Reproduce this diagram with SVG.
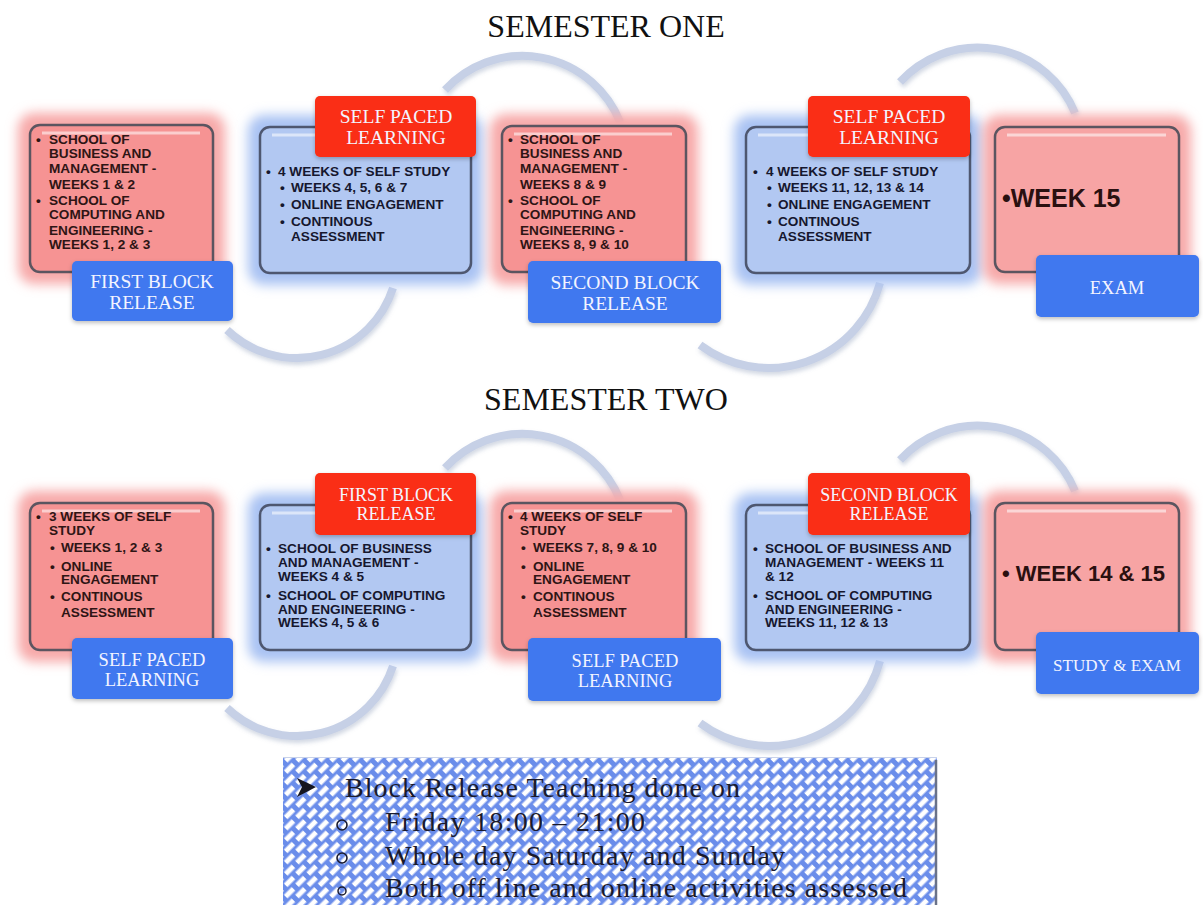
<svg xmlns="http://www.w3.org/2000/svg" width="1203" height="905" viewBox="0 0 1203 905">
<style>
.title{font-family:"Liberation Serif",serif;font-size:32px;fill:#111;text-anchor:middle}
.pinkglow{fill:#f7a9a9;filter:url(#glow)}
.blueglow{fill:#a9c2f3;filter:url(#glow)}
.pink{fill:#f69393;stroke:#5b5560;stroke-width:2.5}
.pinklt{fill:#f7a4a4;stroke:#5b5560;stroke-width:2.5}
.blue{fill:#b2c8f2;stroke:#4e5770;stroke-width:2.5}
.hl{stroke:#fff;stroke-opacity:0.55;stroke-width:3;fill:none}
.t{font-family:"Liberation Sans",Arial,sans-serif;font-weight:bold;font-size:13.6px}
.tp{fill:#2e1515}
.tb{fill:#16172e}
.big{font-family:"Liberation Sans",Arial,sans-serif;font-weight:bold;fill:#2a1010}
.lblue{fill:#4078ef;filter:url(#sh)}
.lred{fill:#fa2d12;filter:url(#sh)}
.lt{font-family:"Liberation Serif",serif;fill:#f3f4ff;text-anchor:middle}
.arc{fill:none;stroke:#c6d0e6;stroke-width:8}
.bt{font-family:"Liberation Serif",serif;font-size:28px;fill:#1a1a2c}
</style>
<defs>
<filter id="glow" x="-30%" y="-30%" width="160%" height="160%"><feGaussianBlur stdDeviation="6"/></filter>
<filter id="sh" x="-20%" y="-20%" width="140%" height="150%"><feDropShadow dx="0" dy="2" stdDeviation="2" flood-color="#000" flood-opacity="0.25"/></filter>
<filter id="ash" x="-20%" y="-20%" width="140%" height="140%"><feDropShadow dx="1" dy="3" stdDeviation="2" flood-color="#8090b0" flood-opacity="0.35"/></filter>
<pattern id="weave" width="16" height="16" patternUnits="userSpaceOnUse" patternTransform="rotate(-45)">
<rect width="16" height="16" fill="#5a80e8"/>
<rect x="0" y="1.5" width="11" height="5" fill="#fff"/>
<rect x="8" y="9.5" width="8" height="5" fill="#fff"/>
<rect x="0" y="9.5" width="3" height="5" fill="#fff"/>
</pattern>
</defs>
<rect width="1203" height="905" fill="#fff"/>

<text class="title" x="606" y="37">SEMESTER ONE</text>
<text class="title" x="606" y="410">SEMESTER TWO</text>

<g id="connectors" filter="url(#ash)">
<path class="arc" d="M445,90 A105,105 0 0 1 620,122"/>
<path class="arc" d="M900,82 A105,105 0 0 1 1075,113"/>
<path class="arc" d="M393,288 A101,101 0 0 1 227,330"/>
<path class="arc" d="M880,283 A115,115 0 0 1 700,345"/>
<path class="arc" d="M445,468 A105,105 0 0 1 620,500"/>
<path class="arc" d="M900,460 A105,105 0 0 1 1075,491"/>
<path class="arc" d="M393,666 A101,101 0 0 1 227,708"/>
<path class="arc" d="M880,661 A115,115 0 0 1 700,723"/>
</g>

<!-- SEMESTER ONE -->
<g id="s1-block1">
<rect class="pinkglow" x="18" y="113" width="207" height="171" rx="16"/>
<rect class="pink" x="30" y="125" width="183" height="147" rx="10"/>
<line class="hl" x1="42" y1="133" x2="200" y2="133"/>
<g class="t tp">
<text x="36" y="144">•</text><text x="49" y="144">SCHOOL OF</text>
<text x="49" y="158">BUSINESS AND</text>
<text x="49" y="173">MANAGEMENT -</text>
<text x="49" y="189">WEEKS 1 &amp; 2</text>
<text x="36" y="205">•</text><text x="49" y="205">SCHOOL OF</text>
<text x="49" y="219">COMPUTING AND</text>
<text x="49" y="235">ENGINEERING -</text>
<text x="49" y="249">WEEKS 1, 2 &amp; 3</text>
</g>
</g>
<g id="s1-label1">
<rect class="lblue" x="72" y="261" width="161" height="60" rx="5"/>
<text class="lt" x="152" y="288" font-size="19.5">FIRST BLOCK</text>
<text class="lt" x="152" y="309" font-size="19.5">RELEASE</text>
</g>

<g id="s1-block2">
<rect class="blueglow" x="248" y="115" width="235" height="170" rx="16"/>
<rect class="blue" x="260" y="127" width="211" height="146" rx="10"/>
<line class="hl" x1="272" y1="135" x2="458" y2="135"/>
<g class="t tb">
<text x="266" y="176">•</text><text x="278" y="176">4 WEEKS OF SELF STUDY</text>
<text x="280" y="192">•</text><text x="291" y="192">WEEKS 4, 5, 6 &amp; 7</text>
<text x="280" y="209">•</text><text x="291" y="209">ONLINE ENGAGEMENT</text>
<text x="280" y="226">•</text><text x="291" y="226">CONTINOUS</text>
<text x="291" y="241">ASSESSMENT</text>
</g>
</g>
<g id="s1-label2">
<rect class="lred" x="315" y="96" width="161" height="61" rx="5"/>
<text class="lt" x="396" y="123" font-size="19.5">SELF PACED</text>
<text class="lt" x="396" y="144" font-size="19.5">LEARNING</text>
</g>

<g id="s1-block3">
<rect class="pinkglow" x="490" y="114" width="208" height="171" rx="16"/>
<rect class="pink" x="502" y="126" width="184" height="146" rx="10"/>
<line class="hl" x1="514" y1="134" x2="672" y2="134"/>
<g class="t tp">
<text x="508" y="144">•</text><text x="520" y="144">SCHOOL OF</text>
<text x="520" y="158">BUSINESS AND</text>
<text x="520" y="173">MANAGEMENT -</text>
<text x="520" y="189">WEEKS 8 &amp; 9</text>
<text x="508" y="205">•</text><text x="520" y="205">SCHOOL OF</text>
<text x="520" y="219">COMPUTING AND</text>
<text x="520" y="235">ENGINEERING -</text>
<text x="520" y="249">WEEKS 8, 9 &amp; 10</text>
</g>
</g>
<g id="s1-label3">
<rect class="lblue" x="528" y="261" width="193" height="62" rx="5"/>
<text class="lt" x="625" y="289" font-size="19.5">SECOND BLOCK</text>
<text class="lt" x="625" y="310" font-size="19.5">RELEASE</text>
</g>

<g id="s1-block4">
<rect class="blueglow" x="734" y="115" width="248" height="170" rx="16"/>
<rect class="blue" x="746" y="127" width="224" height="146" rx="10"/>
<line class="hl" x1="758" y1="135" x2="958" y2="135"/>
<g class="t tb">
<text x="753" y="176">•</text><text x="766" y="176">4 WEEKS OF SELF STUDY</text>
<text x="767" y="192">•</text><text x="778" y="192">WEEKS 11, 12, 13 &amp; 14</text>
<text x="767" y="209">•</text><text x="778" y="209">ONLINE ENGAGEMENT</text>
<text x="767" y="226">•</text><text x="778" y="226">CONTINOUS</text>
<text x="778" y="241">ASSESSMENT</text>
</g>
</g>
<g id="s1-label4">
<rect class="lred" x="808" y="96" width="162" height="61" rx="5"/>
<text class="lt" x="889" y="123" font-size="19.5">SELF PACED</text>
<text class="lt" x="889" y="144" font-size="19.5">LEARNING</text>
</g>

<g id="s1-block5">
<rect class="pinkglow" x="983" y="115" width="208" height="169" rx="16"/>
<rect class="pinklt" x="995" y="127" width="184" height="145" rx="10"/>
<line class="hl" x1="1007" y1="135" x2="1166" y2="135"/>
<text class="big" x="1002" y="207" font-size="25">•WEEK 15</text>
</g>
<g id="s1-label5">
<rect class="lblue" x="1036" y="255" width="163" height="62" rx="5"/>
<text class="lt" x="1117" y="294" font-size="18.5">EXAM</text>
</g>

<!-- SEMESTER TWO -->
<g id="s2-block1">
<rect class="pinkglow" x="18" y="491" width="207" height="171" rx="16"/>
<rect class="pink" x="30" y="503" width="183" height="147" rx="10"/>
<line class="hl" x1="42" y1="511" x2="200" y2="511"/>
<g class="t tp">
<text x="36" y="521">•</text><text x="49" y="521">3 WEEKS OF SELF</text>
<text x="49" y="535">STUDY</text>
<text x="50" y="552">•</text><text x="61" y="552">WEEKS 1, 2 &amp; 3</text>
<text x="50" y="571">•</text><text x="61" y="571">ONLINE</text>
<text x="61" y="584">ENGAGEMENT</text>
<text x="50" y="601">•</text><text x="61" y="601">CONTINOUS</text>
<text x="61" y="617">ASSESSMENT</text>
</g>
</g>
<g id="s2-label1">
<rect class="lblue" x="72" y="638" width="161" height="61" rx="5"/>
<text class="lt" x="152" y="666" font-size="18.5">SELF PACED</text>
<text class="lt" x="152" y="686" font-size="18.5">LEARNING</text>
</g>

<g id="s2-block2">
<rect class="blueglow" x="248" y="493" width="235" height="169" rx="16"/>
<rect class="blue" x="260" y="505" width="211" height="145" rx="10"/>
<line class="hl" x1="272" y1="513" x2="458" y2="513"/>
<g class="t tb">
<text x="266" y="553">•</text><text x="278" y="553">SCHOOL OF BUSINESS</text>
<text x="278" y="567">AND MANAGEMENT -</text>
<text x="278" y="581">WEEKS 4 &amp; 5</text>
<text x="266" y="600">•</text><text x="278" y="600">SCHOOL OF COMPUTING</text>
<text x="278" y="614">AND ENGINEERING -</text>
<text x="278" y="627">WEEKS 4, 5 &amp; 6</text>
</g>
</g>
<g id="s2-label2">
<rect class="lred" x="315" y="473" width="161" height="62" rx="5"/>
<text class="lt" x="396" y="501" font-size="18">FIRST BLOCK</text>
<text class="lt" x="396" y="520" font-size="18">RELEASE</text>
</g>

<g id="s2-block3">
<rect class="pinkglow" x="490" y="491" width="208" height="171" rx="16"/>
<rect class="pink" x="502" y="503" width="184" height="147" rx="10"/>
<line class="hl" x1="514" y1="511" x2="672" y2="511"/>
<g class="t tp">
<text x="508" y="521">•</text><text x="520" y="521">4 WEEKS OF SELF</text>
<text x="520" y="535">STUDY</text>
<text x="521" y="552">•</text><text x="533" y="552">WEEKS 7, 8, 9 &amp; 10</text>
<text x="521" y="571">•</text><text x="533" y="571">ONLINE</text>
<text x="533" y="584">ENGAGEMENT</text>
<text x="521" y="601">•</text><text x="533" y="601">CONTINOUS</text>
<text x="533" y="617">ASSESSMENT</text>
</g>
</g>
<g id="s2-label3">
<rect class="lblue" x="528" y="638" width="193" height="63" rx="5"/>
<text class="lt" x="625" y="667" font-size="18.5">SELF PACED</text>
<text class="lt" x="625" y="687" font-size="18.5">LEARNING</text>
</g>

<g id="s2-block4">
<rect class="blueglow" x="734" y="493" width="248" height="169" rx="16"/>
<rect class="blue" x="746" y="505" width="224" height="145" rx="10"/>
<line class="hl" x1="758" y1="513" x2="958" y2="513"/>
<g class="t tb">
<text x="753" y="553">•</text><text x="765" y="553">SCHOOL OF BUSINESS AND</text>
<text x="765" y="567">MANAGEMENT - WEEKS 11</text>
<text x="765" y="581">&amp; 12</text>
<text x="753" y="600">•</text><text x="765" y="600">SCHOOL OF COMPUTING</text>
<text x="765" y="614">AND ENGINEERING -</text>
<text x="765" y="627">WEEKS 11, 12 &amp; 13</text>
</g>
</g>
<g id="s2-label4">
<rect class="lred" x="808" y="473" width="162" height="62" rx="5"/>
<text class="lt" x="889" y="501" font-size="18">SECOND BLOCK</text>
<text class="lt" x="889" y="520" font-size="18">RELEASE</text>
</g>

<g id="s2-block5">
<rect class="pinkglow" x="983" y="491" width="208" height="171" rx="16"/>
<rect class="pinklt" x="995" y="503" width="184" height="147" rx="10"/>
<line class="hl" x1="1007" y1="511" x2="1166" y2="511"/>
<text class="big" x="1002" y="581" font-size="22">• WEEK 14 &amp; 15</text>
</g>
<g id="s2-label5">
<rect class="lblue" x="1036" y="632" width="163" height="62" rx="5"/>
<text class="lt" x="1117" y="671" font-size="17">STUDY &amp; EXAM</text>
</g>

<!-- NOTE BOX -->
<g id="note">
<rect x="283" y="757" width="654" height="150" fill="url(#weave)"/>
<rect x="283" y="757" width="654" height="150" fill="#fff" fill-opacity="0.1"/>
<line x1="936" y1="760" x2="936" y2="905" stroke="#6a7288" stroke-width="2.5"/>
<line x1="283" y1="757.5" x2="937" y2="757.5" stroke="#c8d2ea" stroke-width="1"/>
<path d="M297,778 L316,787 L297,797 L302,787 Z" fill="#151520"/>
<circle cx="342" cy="825" r="5" fill="none" stroke="#1a1a2c" stroke-width="1.6"/>
<circle cx="342" cy="858" r="5" fill="none" stroke="#1a1a2c" stroke-width="1.6"/>
<circle cx="342" cy="891" r="4" fill="none" stroke="#1a1a2c" stroke-width="1.5"/>
<text class="bt" x="345" y="797" textLength="395" lengthAdjust="spacing">Block Release Teaching done on</text>
<text class="bt" x="385" y="831" textLength="260" lengthAdjust="spacing">Friday 18:00 – 21:00</text>
<text class="bt" x="385" y="865" textLength="400" lengthAdjust="spacing">Whole day Saturday and Sunday</text>
<text class="bt" x="385" y="897" textLength="522" lengthAdjust="spacing">Both off line and online activities assessed</text>
</g>
</svg>
